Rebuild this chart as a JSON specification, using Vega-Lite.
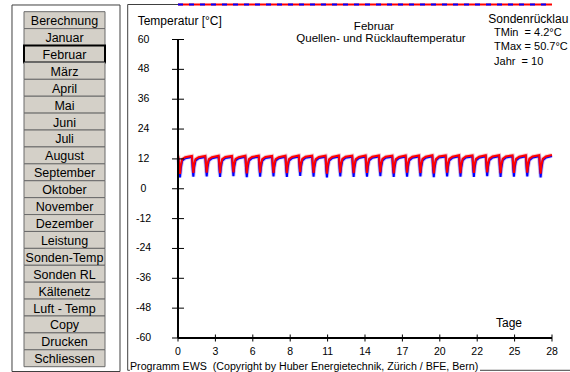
{
"$schema": "https://vega.github.io/schema/vega-lite/v6.json",
"width": 570, "height": 372, "padding": 0, "autosize": {"type": "none"},
"background": "white",
"config": {"font": "Liberation Sans", "view": {"stroke": null}},
"datasets": {
"buttons": [{"b":"Berechnung"},{"b":"Januar"},{"b":"Februar"},{"b":"März"},{"b":"April"},{"b":"Mai"},{"b":"Juni"},{"b":"Juli"},{"b":"August"},{"b":"September"},{"b":"Oktober"},{"b":"November"},{"b":"Dezember"},{"b":"Leistung"},{"b":"Sonden-Temp"},{"b":"Sonden RL"},{"b":"Kältenetz"},{"b":"Luft - Temp"},{"b":"Copy"},{"b":"Drucken"},{"b":"Schliessen"}],
"yticks": [{"v":-60},{"v":-48},{"v":-36},{"v":-24},{"v":-12},{"v":0},{"v":12},{"v":24},{"v":36},{"v":48},{"v":60}],
"xticks": [{"d":0},{"d":2.8},{"d":5.6},{"d":8.4},{"d":11.2},{"d":14},{"d":16.8},{"d":19.6},{"d":22.4},{"d":25.2},{"d":28}],
"temps": [
{"t":0,"q":11.8,"r":12.0},{"t":0.04,"q":11.7,"r":12.2},{"t":0.10,"q":7.5,"r":9.1},{"t":0.15,"q":4.6,"r":6.0},{"t":0.21,"q":8.2,"r":9.4},{"t":0.31,"q":11.3,"r":11.9},{"t":0.55,"q":12.3,"r":12.7},
{"t":1.04,"q":12.8,"r":13.2},{"t":1.10,"q":7.8,"r":9.5},{"t":1.15,"q":4.9,"r":6.4},{"t":1.21,"q":8.5,"r":9.8},{"t":1.31,"q":11.3,"r":11.9},{"t":1.55,"q":12.3,"r":12.7},
{"t":2.04,"q":12.8,"r":13.2},{"t":2.10,"q":7.9,"r":9.6},{"t":2.15,"q":5.0,"r":6.5},{"t":2.21,"q":8.6,"r":9.9},{"t":2.31,"q":11.3,"r":11.9},{"t":2.55,"q":12.3,"r":12.7},
{"t":3.04,"q":12.9,"r":13.3},{"t":3.10,"q":7.7,"r":9.4},{"t":3.15,"q":4.8,"r":6.3},{"t":3.21,"q":8.4,"r":9.7},{"t":3.31,"q":11.3,"r":11.9},{"t":3.55,"q":12.4,"r":12.8},
{"t":4.04,"q":12.8,"r":13.2},{"t":4.10,"q":8.0,"r":9.7},{"t":4.15,"q":5.1,"r":6.6},{"t":4.21,"q":8.7,"r":10.0},{"t":4.31,"q":11.4,"r":12.0},{"t":4.55,"q":12.3,"r":12.7},
{"t":5.04,"q":12.9,"r":13.3},{"t":5.10,"q":7.6,"r":9.3},{"t":5.15,"q":4.7,"r":6.2},{"t":5.21,"q":8.3,"r":9.6},{"t":5.31,"q":11.2,"r":11.9},{"t":5.55,"q":12.4,"r":12.8},
{"t":6.04,"q":12.9,"r":13.3},{"t":6.10,"q":7.8,"r":9.6},{"t":6.15,"q":4.9,"r":6.5},{"t":6.21,"q":8.5,"r":9.9},{"t":6.31,"q":11.3,"r":11.9},{"t":6.55,"q":12.4,"r":12.8},
{"t":7.04,"q":12.8,"r":13.2},{"t":7.10,"q":7.9,"r":9.5},{"t":7.15,"q":5.0,"r":6.4},{"t":7.21,"q":8.6,"r":9.8},{"t":7.31,"q":11.3,"r":11.9},{"t":7.55,"q":12.3,"r":12.7},
{"t":8.04,"q":12.9,"r":13.3},{"t":8.10,"q":7.7,"r":9.4},{"t":8.15,"q":4.8,"r":6.3},{"t":8.21,"q":8.4,"r":9.7},{"t":8.31,"q":11.3,"r":11.9},{"t":8.55,"q":12.4,"r":12.8},
{"t":9.04,"q":13.0,"r":13.4},{"t":9.10,"q":8.1,"r":9.8},{"t":9.15,"q":5.2,"r":6.7},{"t":9.21,"q":8.8,"r":10.1},{"t":9.31,"q":11.4,"r":12.0},{"t":9.55,"q":12.5,"r":12.9},
{"t":10.04,"q":12.9,"r":13.3},{"t":10.10,"q":7.8,"r":9.5},{"t":10.15,"q":4.9,"r":6.4},{"t":10.21,"q":8.5,"r":9.8},{"t":10.31,"q":11.3,"r":11.9},{"t":10.55,"q":12.4,"r":12.8},
{"t":11.04,"q":12.9,"r":13.3},{"t":11.10,"q":7.5,"r":9.2},{"t":11.15,"q":4.6,"r":6.1},{"t":11.21,"q":8.2,"r":9.5},{"t":11.31,"q":11.2,"r":11.8},{"t":11.55,"q":12.4,"r":12.8},
{"t":12.04,"q":13.0,"r":13.4},{"t":12.10,"q":7.9,"r":9.6},{"t":12.15,"q":5.0,"r":6.5},{"t":12.21,"q":8.6,"r":9.9},{"t":12.31,"q":11.4,"r":12.0},{"t":12.55,"q":12.5,"r":12.9},
{"t":13.04,"q":12.9,"r":13.3},{"t":13.10,"q":7.7,"r":9.4},{"t":13.15,"q":4.8,"r":6.3},{"t":13.21,"q":8.4,"r":9.7},{"t":13.31,"q":11.3,"r":11.9},{"t":13.55,"q":12.4,"r":12.8},
{"t":14.04,"q":13.0,"r":13.4},{"t":14.10,"q":7.8,"r":9.5},{"t":14.15,"q":4.9,"r":6.4},{"t":14.21,"q":8.5,"r":9.8},{"t":14.31,"q":11.4,"r":12.0},{"t":14.55,"q":12.5,"r":12.9},
{"t":15.04,"q":13.0,"r":13.4},{"t":15.10,"q":8.0,"r":9.7},{"t":15.15,"q":5.1,"r":6.6},{"t":15.21,"q":8.7,"r":10.0},{"t":15.31,"q":11.4,"r":12.0},{"t":15.55,"q":12.5,"r":12.9},
{"t":16.04,"q":12.9,"r":13.3},{"t":16.10,"q":7.7,"r":9.3},{"t":16.15,"q":4.8,"r":6.2},{"t":16.21,"q":8.4,"r":9.6},{"t":16.31,"q":11.3,"r":11.9},{"t":16.55,"q":12.4,"r":12.8},
{"t":17.04,"q":13.0,"r":13.4},{"t":17.10,"q":7.8,"r":9.6},{"t":17.15,"q":4.9,"r":6.5},{"t":17.21,"q":8.5,"r":9.9},{"t":17.31,"q":11.4,"r":12.0},{"t":17.55,"q":12.5,"r":12.9},
{"t":18.04,"q":13.0,"r":13.4},{"t":18.10,"q":7.9,"r":9.5},{"t":18.15,"q":5.0,"r":6.4},{"t":18.21,"q":8.6,"r":9.8},{"t":18.31,"q":11.4,"r":12.0},{"t":18.55,"q":12.5,"r":12.9},
{"t":19.04,"q":13.1,"r":13.5},{"t":19.10,"q":7.6,"r":9.3},{"t":19.15,"q":4.7,"r":6.2},{"t":19.21,"q":8.3,"r":9.6},{"t":19.31,"q":11.3,"r":11.9},{"t":19.55,"q":12.6,"r":13.0},
{"t":20.04,"q":13.0,"r":13.4},{"t":20.10,"q":7.9,"r":9.6},{"t":20.15,"q":5.0,"r":6.5},{"t":20.21,"q":8.6,"r":9.9},{"t":20.31,"q":11.4,"r":12.0},{"t":20.55,"q":12.5,"r":12.9},
{"t":21.04,"q":13.1,"r":13.5},{"t":21.10,"q":7.8,"r":9.4},{"t":21.15,"q":4.9,"r":6.3},{"t":21.21,"q":8.5,"r":9.7},{"t":21.31,"q":11.4,"r":12.0},{"t":21.55,"q":12.6,"r":13.0},
{"t":22.04,"q":13.0,"r":13.4},{"t":22.10,"q":7.7,"r":9.5},{"t":22.15,"q":4.8,"r":6.4},{"t":22.21,"q":8.4,"r":9.8},{"t":22.31,"q":11.4,"r":12.0},{"t":22.55,"q":12.5,"r":12.9},
{"t":23.04,"q":13.1,"r":13.5},{"t":23.10,"q":8.0,"r":9.7},{"t":23.15,"q":5.1,"r":6.6},{"t":23.21,"q":8.7,"r":10.0},{"t":23.31,"q":11.5,"r":12.1},{"t":23.55,"q":12.6,"r":13.0},
{"t":24.04,"q":13.1,"r":13.5},{"t":24.10,"q":7.7,"r":9.4},{"t":24.15,"q":4.8,"r":6.3},{"t":24.21,"q":8.4,"r":9.7},{"t":24.31,"q":11.4,"r":12.0},{"t":24.55,"q":12.6,"r":13.0},
{"t":25.04,"q":13.0,"r":13.4},{"t":25.10,"q":7.8,"r":9.5},{"t":25.15,"q":4.9,"r":6.4},{"t":25.21,"q":8.5,"r":9.8},{"t":25.31,"q":11.4,"r":12.0},{"t":25.55,"q":12.5,"r":12.9},
{"t":26.04,"q":13.1,"r":13.5},{"t":26.10,"q":7.9,"r":9.6},{"t":26.15,"q":5.0,"r":6.5},{"t":26.21,"q":8.6,"r":9.9},{"t":26.31,"q":11.5,"r":12.1},{"t":26.55,"q":12.6,"r":13.0},
{"t":27.04,"q":13.1,"r":13.5},{"t":27.10,"q":7.5,"r":9.2},{"t":27.15,"q":4.6,"r":6.1},{"t":27.21,"q":8.2,"r":9.5},{"t":27.31,"q":11.4,"r":12.0},{"t":27.55,"q":12.6,"r":13.0},
{"t":28,"q":13.2,"r":13.6}
]
},
"layer": [
{
"data": {"name": "buttons"},
"encoding": {
"x": {"datum": 0, "type": "quantitative", "axis": null, "scale": {"domain": [-0.2963, 6.7407], "nice": false, "zero": false}},
"y": {"field": "b", "type": "nominal", "sort": null, "axis": null, "scale": {"paddingInner": 0, "paddingOuter": 0.5028, "align": 0.688}}
},
"layer": [
{"mark": {"type": "rect", "fill": "#d4d0c8"},
 "encoding": {
  "x2": {"datum": 1},
  "stroke": {"condition": {"test": "datum.b === 'Februar'", "value": "#000000"}, "value": "#6a6a6a"},
  "strokeWidth": {"condition": {"test": "datum.b === 'Februar'", "value": 2}, "value": 1}
 }},
{"mark": {"type": "text", "fontSize": 12.5, "color": "#000000", "baseline": "middle", "dy": 1},
 "encoding": {"x": {"datum": 0.5, "type": "quantitative", "axis": null}, "text": {"field": "b"}}}
]
},
{
"layer": [
{"data": {"name": "temps"}, "mark": {"type": "line", "color": "#6060ff", "strokeWidth": 4, "opacity": 0.3},
 "encoding": {
  "x": {"field": "t", "type": "quantitative", "scale": {"domain": [-13.326, 29.348], "nice": false, "zero": false}, "axis": null},
  "y": {"field": "q", "type": "quantitative", "scale": {"domain": [-73.67, 75.88], "nice": false, "zero": false}, "axis": null}
 }},
{"data": {"name": "temps"}, "mark": {"type": "line", "color": "#ff6060", "strokeWidth": 4, "opacity": 0.3},
 "encoding": {"x": {"field": "t", "type": "quantitative", "axis": null}, "y": {"field": "r", "type": "quantitative", "axis": null}}},
{"data": {"name": "temps"}, "mark": {"type": "line", "color": "#0000ff", "strokeWidth": 2},
 "encoding": {"x": {"field": "t", "type": "quantitative", "axis": null}, "y": {"field": "q", "type": "quantitative", "axis": null}}},
{"data": {"name": "temps"}, "mark": {"type": "line", "color": "#ff0000", "strokeWidth": 2},
 "encoding": {"x": {"field": "t", "type": "quantitative", "axis": null}, "y": {"field": "r", "type": "quantitative", "axis": null}}},
{"data": {"values": [{}]}, "mark": {"type": "rule", "color": "#000000", "strokeWidth": 2},
 "encoding": {"x": {"datum": 0, "axis": null}, "y": {"datum": -60, "axis": null}, "y2": {"datum": 60}}},
{"data": {"values": [{}]}, "mark": {"type": "rule", "color": "#000000", "strokeWidth": 2},
 "encoding": {"x": {"datum": 0, "axis": null}, "x2": {"datum": 28}, "y": {"datum": -60, "axis": null}}},
{"data": {"name": "yticks"},
 "mark": {"type": "tick", "orient": "horizontal", "size": 12, "thickness": 1, "color": "#000000", "opacity": 1},
 "encoding": {"x": {"datum": 0, "axis": null}, "y": {"field": "v", "type": "quantitative", "axis": null}}},
{"data": {"name": "yticks"},
 "mark": {"type": "text", "align": "center", "baseline": "middle", "dx": -34.5, "fontSize": 10.5, "color": "#000000"},
 "encoding": {"x": {"datum": 0, "axis": null}, "y": {"field": "v", "type": "quantitative", "axis": null}, "text": {"field": "v", "type": "nominal"}}},
{"data": {"name": "xticks"},
 "mark": {"type": "tick", "orient": "vertical", "size": 7, "thickness": 1, "color": "#000000", "opacity": 1},
 "encoding": {"x": {"field": "d", "type": "quantitative", "axis": null}, "y": {"datum": -60, "axis": null}}},
{"data": {"name": "xticks"},
 "mark": {"type": "text", "align": "center", "baseline": "middle", "dy": 14.5, "fontSize": 10.5, "color": "#000000"},
 "encoding": {"x": {"field": "d", "type": "quantitative", "axis": null}, "y": {"datum": -60, "axis": null}, "text": {"field": "d", "type": "quantitative", "format": ".0f"}}},
{"data": {"values": [{}]}, "mark": {"type": "rect", "filled": false, "color": "#404040", "strokeWidth": 1},
 "encoding": {"x": {"datum": -12.428, "axis": null}, "x2": {"datum": -4.342}, "y": {"datum": 73.87, "axis": null}, "y2": {"datum": -73.47}}},
{"data": {"values": [{}]}, "mark": {"type": "rule", "color": "#404040", "strokeWidth": 1},
 "encoding": {"x": {"datum": -3.766, "axis": null}, "y": {"datum": 74.07, "axis": null}, "y2": {"datum": -72.98}}},
{"data": {"values": [{}]}, "mark": {"type": "rule", "color": "#404040", "strokeWidth": 1},
 "encoding": {"x": {"datum": -3.766, "axis": null}, "x2": {"datum": 0}, "y": {"datum": 74.07, "axis": null}}},
{"data": {"values": [{}]}, "mark": {"type": "rule", "color": "#404040", "strokeWidth": 1},
 "encoding": {"x": {"datum": -3.766, "axis": null}, "x2": {"datum": -3.6}, "y": {"datum": -72.98, "axis": null}}},
{"data": {"values": [{}]}, "mark": {"type": "rule", "color": "#404040", "strokeWidth": 1},
 "encoding": {"x": {"datum": 22.61, "axis": null}, "x2": {"datum": 29.348}, "y": {"datum": -72.98, "axis": null}}},
{"data": {"values": [{}]}, "mark": {"type": "rule", "color": "#ff0000", "strokeWidth": 2},
 "encoding": {"x": {"datum": 0, "axis": null}, "x2": {"datum": 28}, "y": {"datum": 74.07, "axis": null}}},
{"data": {"values": [{}]}, "mark": {"type": "rule", "color": "#0000ff", "strokeWidth": 2, "strokeDash": [5, 6]},
 "encoding": {"x": {"datum": 0, "axis": null}, "x2": {"datum": 28}, "y": {"datum": 74.07, "axis": null}}},
{"data": {"values": [{}]}, "mark": {"type": "text", "align": "left", "baseline": "alphabetic", "fontSize": 12, "color": "#000000"},
 "encoding": {"x": {"datum": -3.017, "axis": null}, "y": {"datum": 65.71, "axis": null}, "text": {"value": "Temperatur [°C]"}}},
{"data": {"values": [{}]}, "mark": {"type": "text", "align": "center", "baseline": "alphabetic", "fontSize": 11.5, "color": "#000000"},
 "encoding": {"x": {"datum": 14.674, "axis": null}, "y": {"datum": 63.7, "axis": null}, "text": {"value": "Februar"}}},
{"data": {"values": [{}]}, "mark": {"type": "text", "align": "center", "baseline": "alphabetic", "fontSize": 11.5, "color": "#000000"},
 "encoding": {"x": {"datum": 15.198, "axis": null}, "y": {"datum": 59.0, "axis": null}, "text": {"value": "Quellen- und Rücklauftemperatur"}}},
{"data": {"values": [{}]}, "mark": {"type": "text", "align": "left", "baseline": "alphabetic", "fontSize": 12, "color": "#000000"},
 "encoding": {"x": {"datum": 23.23, "axis": null}, "y": {"datum": 66.51, "axis": null}, "text": {"value": "Sondenrücklau"}}},
{"data": {"values": [{}]}, "mark": {"type": "text", "align": "left", "baseline": "alphabetic", "fontSize": 11, "lineHeight": 14.3, "color": "#000000"},
 "encoding": {"x": {"datum": 23.66, "axis": null}, "y": {"datum": 61.41, "axis": null}, "text": {"value": ["TMin\u00a0 = 4.2°C", "TMax = 50.7°C", "Jahr\u00a0 = 10"]}}},
{"data": {"values": [{}]}, "mark": {"type": "text", "align": "center", "baseline": "alphabetic", "fontSize": 12, "color": "#000000"},
 "encoding": {"x": {"datum": 24.78, "axis": null}, "y": {"datum": -55.38, "axis": null}, "text": {"value": "Tage"}}},
{"data": {"values": [{}]}, "mark": {"type": "text", "align": "left", "baseline": "alphabetic", "fontSize": 10.65, "color": "#000000"},
 "encoding": {"x": {"datum": -3.594, "axis": null}, "y": {"datum": -72.71, "axis": null}, "text": {"value": "Programm EWS\u00a0 (Copyright by Huber Energietechnik, Zürich / BFE, Bern)"}}}
]
}
],
"resolve": {"scale": {"x": "independent", "y": "independent"}}
}
